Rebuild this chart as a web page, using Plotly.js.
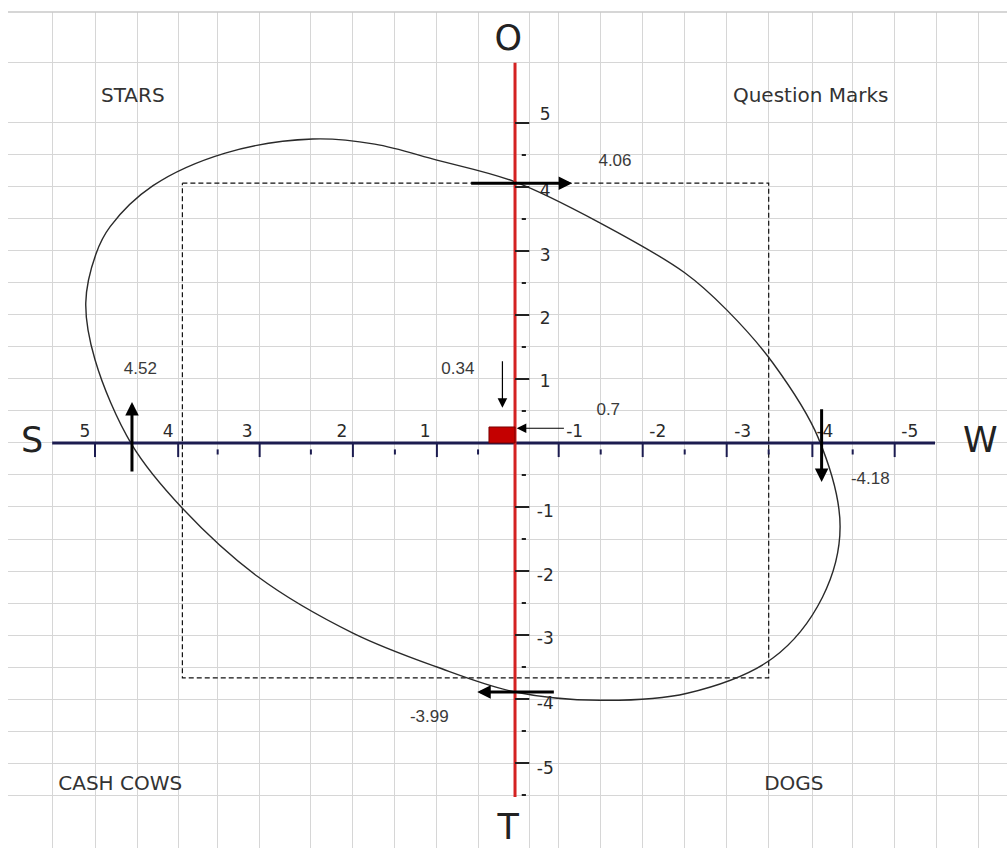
<!DOCTYPE html>
<html>
<head>
<meta charset="utf-8">
<script src="https://cdn.plot.ly/plotly-3.0.1.min.js"></script>
<style>
  body { margin: 0; background: #fff; }
  #chart { width: 1007px; height: 848px; }
</style>
</head>
<body>
<div id="chart"></div>
<script>
// everything is in diagram units: x grows to the left (S side), y grows up (O side)
const gridX = [5.51, 5.0, 4.5, 4.01, 3.54, 3.04, 2.43, 1.93, 1.43, 0.93, 0.44, -0.17, -0.52, -1.02, -1.52, -2.02, -2.52, -3.02, -3.54, -4.02, -4.52, -5.02, -5.52];
const gridY = [5.94, 5, 4.5, 4, 3.5, 3, 2.5, 2, 1.5, 1, 0.5, 0, -0.5, -1, -1.5, -2, -2.5, -3, -3.5, -4, -4.5, -5, -5.5];

// S-W axis
const swMajor = [5.0, 4.01, 3.04, 1.93, 0.93, -0.52, -1.52, -2.52, -3.54, -4.52];
const swMinor = [3.54, 2.43, 1.43, 0.44, -1.02, -2.02, -3.02, -4.02];
const swLabels = ['5', '4', '3', '2', '1', '-1', '-2', '-3', '-4', '-5'];
const swLabelX = [5.12, 4.13, 3.19, 2.06, 1.07, -0.71, -1.70, -2.71, -3.69, -4.70];

// O-T axis
const otMajor = [5, 4, 3, 2, 1, -1, -2, -3, -4, -5];
const otMinor = [4.5, 3.5, 2.5, 1.5, 0.5, -0.5, -1.5, -2.5, -3.5, -4.5, -5.5];
const otLabels = ['5', '4', '3', '2', '1', '-1', '-2', '-3', '-4', '-5'];
const otLabelY = [5.11, 3.92, 2.91, 1.92, 0.94, -1.09, -2.09, -3.08, -4.09, -5.11];

// ellipse
const ellX = [2.41, 1.67, 0.93, 0, -1.01, -2.02, -2.52, -3.07, -3.61, -3.87, -3.66, -3.07, -2.05, -1.01, 0, 0.93, 1.93, 3.06, 3.96, 4.56, 5.00, 5.11, 4.99, 4.82, 4.31, 3.45, 2.41];
const ellY = [4.75, 4.67, 4.42, 4.08, 3.44, 2.66, 2.08, 1.25, 0.08, -1.31, -2.41, -3.36, -3.91, -4.02, -3.89, -3.50, -2.97, -2.09, -1.02, -0.03, 1.30, 2.19, 2.95, 3.38, 4.02, 4.53, 4.75];

// dashed box
const boxX = [3.96, -3.02, -3.02, 3.96, 3.96];
const boxY = [4.06, 4.06, -3.67, -3.67, 4.06];

// red block at the centre
const blockX = [0.31, 0];
const blockY = [0, 0.25];

// arrows: tail -> tip
const arrowTailX = [0.54, 4.56, -3.65, -0.48, 0.15, -0.60];
const arrowTailY = [4.06, -0.47, 0.55, -3.89, 1.30, 0.23];
const arrowTipX = [-0.68, 4.56, -3.65, 0.45, 0.15, -0.02];
const arrowTipY = [4.06, 0.64, -0.61, -3.89, 0.55, 0.23];
const arrowWidth = [3, 3, 3, 3, 1.2, 1.2];

const valueText = ['4.06', '4.52', '-4.18', '-3.99', '0.34', '0.7'];
const valueX = [-1.19, 4.46, -4.23, 1.02, 0.68, -1.11];
const valueY = [4.39, 1.14, -0.58, -4.30, 1.14, 0.50];

const quadText = ['STARS', 'Question Marks', 'CASH COWS', 'DOGS'];
const quadX = [4.55, -3.52, 4.70, -3.32];
const quadY = [5.41, 5.41, -5.34, -5.34];

const poleText = ['S', 'W', 'O', 'T'];
const poleX = [5.75, -5.54, 0.08, 0.08];
const poleY = [0, 0, 6.27, -6.05];

function segs(vals, a, b, vertical) {
  let xs = [], ys = [];
  vals.forEach(function (v) {
    if (vertical) { xs.push(v, v, null); ys.push(a, b, null); }
    else { xs.push(a, b, null); ys.push(v, v, null); }
  });
  return { x: xs, y: ys };
}

const swMaj = segs(swMajor, 0, -0.22, true);
const swMin = segs(swMinor, -0.10, -0.18, true);
const otMaj = segs(otMajor, 0, -0.17, false);
const otMin = segs(otMinor, -0.08, -0.13, false);

const data = [
  { x: boxX, y: boxY, mode: 'lines', line: { color: '#111', width: 1.2, dash: '5px,3px' }, hoverinfo: 'skip' },
  { x: ellX, y: ellY, mode: 'lines', line: { color: '#2a2a2a', width: 1.4, shape: 'spline', smoothing: 1 }, hoverinfo: 'skip' },
  { x: [gridX[0], -5.0], y: [0, 0], mode: 'lines', line: { color: '#1c1c50', width: 3 }, hoverinfo: 'skip' },
  { x: swMaj.x, y: swMaj.y, mode: 'lines', line: { color: '#1c1c50', width: 2 }, hoverinfo: 'skip' },
  { x: swMin.x, y: swMin.y, mode: 'lines', line: { color: '#1c1c50', width: 2 }, hoverinfo: 'skip' },
  { x: [0, 0], y: [gridY[0], -5.53], mode: 'lines', line: { color: '#d42222', width: 3 }, hoverinfo: 'skip' },
  { x: otMaj.x, y: otMaj.y, mode: 'lines', line: { color: '#222', width: 2 }, hoverinfo: 'skip' },
  { x: otMin.x, y: otMin.y, mode: 'lines', line: { color: '#222', width: 2 }, hoverinfo: 'skip' },
  { x: swLabelX, y: swLabels.map(function () { return 0.16; }), mode: 'text', text: swLabels,
    textfont: { family: 'DejaVu Sans', size: 17, color: '#2a2a2a' }, hoverinfo: 'skip' },
  { x: otLabels.map(function () { return -0.36; }), y: otLabelY, mode: 'text', text: otLabels,
    textfont: { family: 'DejaVu Sans', size: 17, color: '#2a2a2a' }, hoverinfo: 'skip' },
  { x: valueX, y: valueY, mode: 'text', text: valueText,
    textfont: { family: 'Liberation Sans', size: 17, color: '#3a3a3a' }, hoverinfo: 'skip' },
  { x: quadX, y: quadY, mode: 'text', text: quadText,
    textfont: { family: 'DejaVu Sans', size: 20, color: '#333' }, hoverinfo: 'skip' },
  { x: poleX, y: poleY, mode: 'text', text: poleText,
    textfont: { family: 'DejaVu Sans', size: 35, color: '#222' }, hoverinfo: 'skip' }
];

const annotations = arrowTipX.map(function (tx, i) {
  return {
    x: tx, y: arrowTipY[i], ax: arrowTailX[i], ay: arrowTailY[i],
    xref: 'x', yref: 'y', axref: 'x', ayref: 'y',
    text: '', showarrow: true, arrowhead: 2, arrowsize: arrowWidth[i] > 2 ? 0.9 : 1.6,
    arrowwidth: arrowWidth[i], arrowcolor: '#000', standoff: 0, startstandoff: 0
  };
});

const layout = {
  width: 1007,
  height: 848,
  margin: { l: 8, r: 0, t: 12, b: 0 },
  paper_bgcolor: '#fff',
  plot_bgcolor: '#fff',
  showlegend: false,
  xaxis: {
    range: [6.036, -5.857], tickvals: gridX, showticklabels: false, ticks: '',
    showgrid: true, gridcolor: '#d6d6d6', gridwidth: 1, zeroline: false, showline: false, fixedrange: true
  },
  yaxis: {
    range: [-6.328, 6.734], tickvals: gridY, showticklabels: false, ticks: '',
    showgrid: true, gridcolor: '#d6d6d6', gridwidth: 1, zeroline: false, showline: false, fixedrange: true
  },
  shapes: [
    { type: 'line', xref: 'paper', yref: 'paper', x0: 0, x1: 1, y0: 1, y1: 1, line: { color: '#c8c8c8', width: 1.5 } },
    { type: 'rect', xref: 'x', yref: 'y', x0: blockX[0], x1: blockX[1], y0: blockY[0], y1: blockY[1],
      fillcolor: '#c40000', line: { color: '#7a0000', width: 1 }, layer: 'above' }
  ],
  annotations: annotations
};

Plotly.newPlot('chart', data, layout, { displayModeBar: false, staticPlot: true });
</script>
</body>
</html>
